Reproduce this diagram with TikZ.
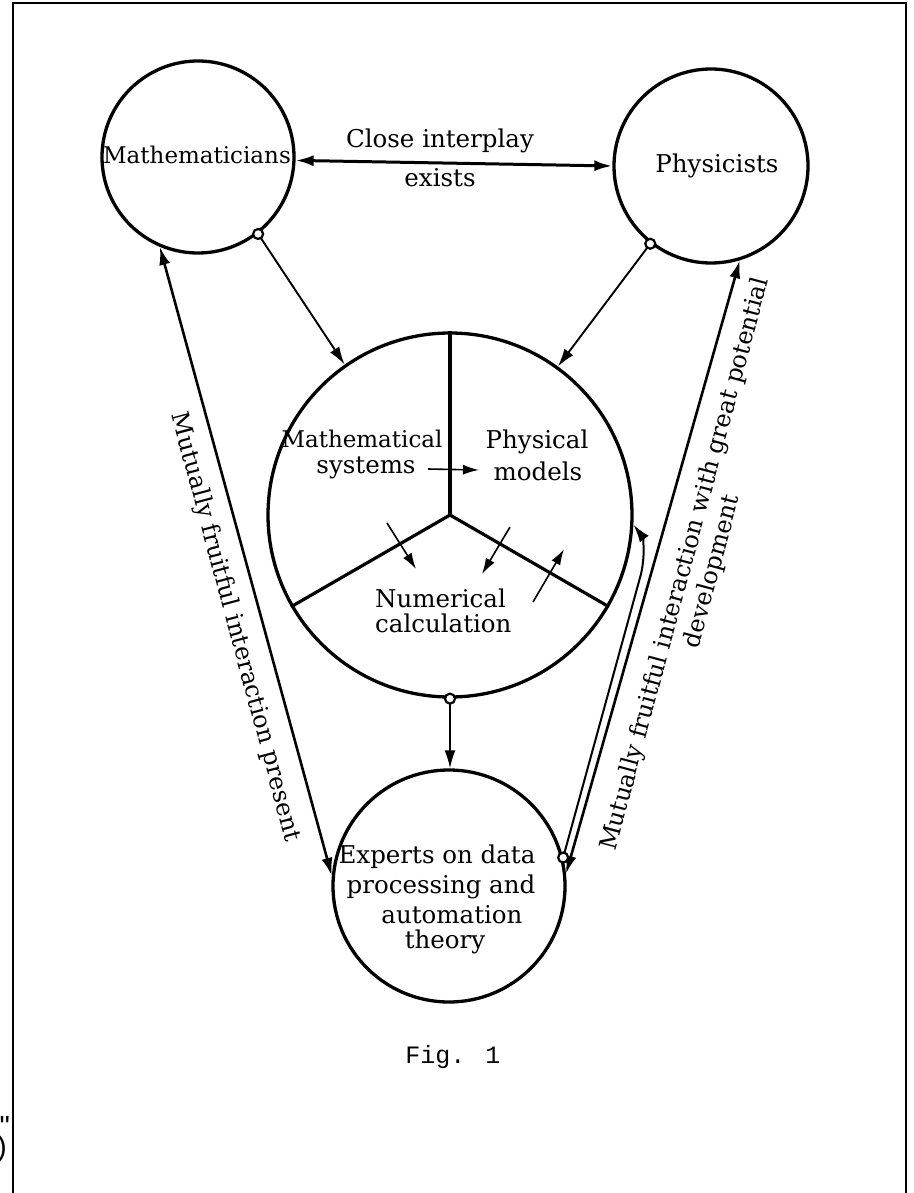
\documentclass[tikz,border=0pt]{standalone}
\usepackage{fontspec}
\setmainfont{DejaVu Serif}
\newfontfamily\figfont{Liberation Mono}
\newfontfamily\edgefont{Liberation Sans}
\usetikzlibrary{arrows.meta}
\begin{document}
\begin{tikzpicture}[x=1pt,y=-1pt,
  bubble/.style={circle,draw,line width=3.3pt,inner sep=0pt},
  lbl/.style={font=\fontsize{24.5}{28}\selectfont,inner sep=0pt,anchor=base},
  slbl/.style={font=\fontsize{23}{27}\selectfont,inner sep=0pt,anchor=base},
  rlbl/.style={font=\fontsize{24}{28}\selectfont,inner sep=0pt,align=center},
  tip/.style={-{Latex[length=18pt,width=11pt]}},
  bitip/.style={{Latex[length=18pt,width=11pt]}-{Latex[length=18pt,width=11pt]}},
  thinarr/.style={line width=1.6pt,-{Latex[length=16pt,width=10pt]}},
  opendot/.style={circle,draw,line width=2.2pt,fill=white,inner sep=0pt,minimum size=10pt},
  frame/.style={line width=2.8pt}
]
\useasboundingbox (0,0) rectangle (913,1193);

% frame
\coordinate (f1) at (13,1194);
\coordinate (f2) at (13,3);
\coordinate (f3) at (906,3);
\coordinate (f4) at (906,1194);
\draw[frame] (f1) -- (f2) -- (f3) -- (f4);

% circles
\node[bubble,minimum size=192pt] (M) at (198,157) {};
\node[bubble,minimum size=194pt] (P) at (711,166) {};
\node[bubble,minimum size=364pt] (C) at (450,515) {};
\node[bubble,minimum size=232pt] (B) at (449,886) {};

% sectors of the centre circle
\draw[line width=3.2pt] (C.center) -- (C.north);
\draw[line width=3.2pt] (C.center) -- (C.210);
\draw[line width=3.2pt] (C.center) -- (C.-30);

% labels
\node[slbl] (tM) at (197,164) {Mathematicians};
\node[lbl] (tP) at (717,172) {Physicists};
\node[lbl] (tC1) at (440,148) {Close interplay};
\node[lbl] (tC2) at (440,186) {exists};
\node[slbl] (tMs1) at (362,447) {Mathematical};
\node[lbl] (tMs2) at (366,473) {systems};
\node[lbl] (tPm1) at (537,448) {Physical};
\node[lbl] (tPm2) at (538,480) {models};
\node[lbl,anchor=base west] (tN1) at (375,607) {Numerical};
\node[lbl,anchor=base west] (tN2) at (375,632) {calculation};
\node[lbl] (tE1) at (437,863) {Experts on data};
\node[lbl] (tE2) at (441,893) {processing and};
\node[lbl] (tE3) at (452,923) {automation};
\node[lbl] (tE4) at (445,948) {theory};
\node[font=\figfont\fontsize{25}{30}\selectfont,inner sep=0pt,anchor=base] (fig) at (453,1063) {Fig. 1};
\node[font=\edgefont\fontsize{29}{32}\selectfont,inner sep=0pt,anchor=base east] (q1) at (10,1136) {"};
\node[font=\edgefont\fontsize{29}{32}\selectfont,inner sep=0pt,anchor=base east] (q2) at (7,1156) {)};

% connectors
\draw[line width=3pt,bitip] (M.-2) -- (P.west);
\draw[line width=1.9pt,tip] (M.-52) -- (C.125);
\draw[line width=1.9pt,tip] (P.-128) -- (C.54);
\draw[line width=1.9pt,tip] (C.south) -- (C.south |- B.north);
\draw[line width=2.6pt,bitip] (B.175) -- (M.-113);
\draw[line width=2.6pt,bitip] (B.6) -- (P.-73);
\coordinate (bend) at (641,574);
\draw[line width=2pt,tip] (B.14) -- (bend) .. controls (646,552) and (642,536) .. (C.-3);

% arrows inside the centre circle
\coordinate (a1s) at (428,469); \coordinate (a1e) at (479,470);
\coordinate (a2s) at (387,523); \coordinate (a2e) at (416,569);
\coordinate (a3s) at (510,527); \coordinate (a3e) at (482,574);
\coordinate (a4s) at (533,602); \coordinate (a4e) at (564,549);
\draw[thinarr] (a1s) -- (a1e);
\draw[thinarr] (a2s) -- (a2e);
\draw[thinarr] (a3s) -- (a3e);
\draw[thinarr] (a4s) -- (a4e);

% open dots
\node[opendot] at (M.-52) {};
\node[opendot] at (P.-128) {};
\node[opendot] at (C.south) {};
\node[opendot] at (B.14) {};

% rotated labels
\node[rlbl,rotate=-75] (tL) at (235,627) {Mutually fruitful interaction present};
\node[rlbl,rotate=75] (tR) at (699,568) {Mutually fruitful interaction with great potential\\development};
\end{tikzpicture}
\end{document}
